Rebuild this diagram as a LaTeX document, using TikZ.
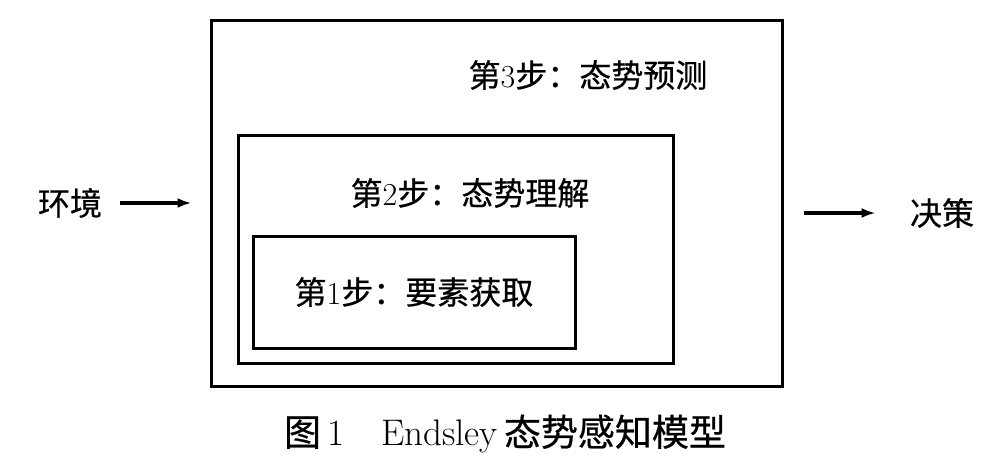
\documentclass[tikz,border=0pt]{standalone}
\usepackage{fontspec}
\newfontfamily\cjk[FakeBold=0.6]{Noto Sans CJK SC}
\usetikzlibrary{arrows.meta}
\begin{document}
\begin{tikzpicture}[x=0.5pt, y=-0.5pt,
  box/.style={draw, line width=1.5pt, inner sep=0pt},
  lbl/.style={inner sep=0pt, font=\fontsize{16}{19}\selectfont},
  arr/.style={line width=2.2pt, -{Latex[length=7pt,width=5pt]}}]
\useasboundingbox (0,0) rectangle (1008,472);
\node[box, minimum width=285.5pt, minimum height=183pt] (box3) at (496.5,203){};
\node[box, minimum width=217.5pt, minimum height=114pt] (box2) at (455.5,249){};
\node[box, lbl, minimum width=161pt, minimum height=56pt] (box1) at (414,292){{\cjk 第}1{\cjk 步：要素获取}};
\node[lbl] (t3) at (588,75){{\cjk 第}3{\cjk 步：态势预测}};
\node[lbl] (t2) at (470,193){{\cjk 第}2{\cjk 步：态势理解}};
\node[lbl] (env) at (70,203){\cjk 环境};
\node[lbl] (dec) at (942,213){\cjk 决策};
\node[inner sep=0pt, font=\fontsize{18.5}{22}\selectfont] (cap) at (505,434){{\cjk 图}\,1\quad Endsley\,{\cjk 态势感知模型}};
\draw[arr, shorten <=9pt, shorten >=9pt](env) -- (env -| box3.west);
\draw[arr, shorten <=10pt, shorten >=17pt](box3.east |- dec) -- (dec);
\end{tikzpicture}
\end{document}
